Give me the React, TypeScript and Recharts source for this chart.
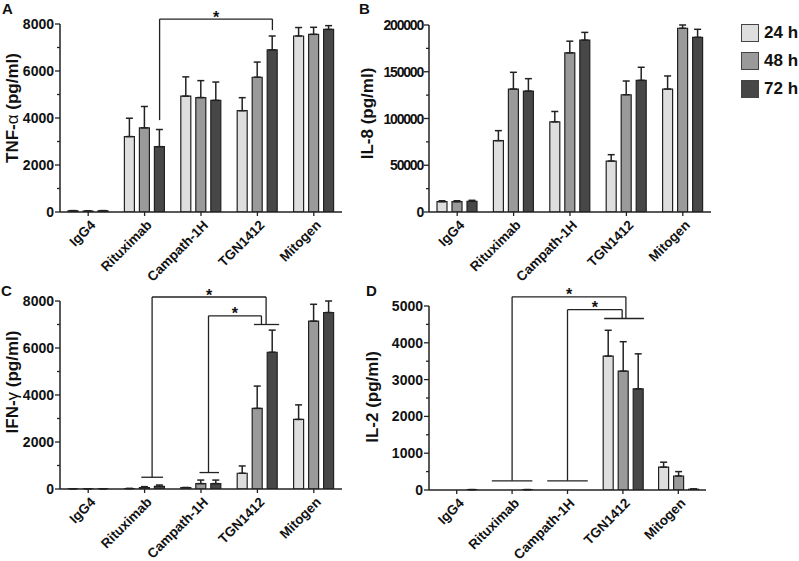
import { BarChart, Bar, XAxis, YAxis, ErrorBar, ReferenceLine, ReferenceDot, Legend } from 'recharts'

const CATEGORIES = ['IgG4', 'Rituximab', 'Campath-1H', 'TGN1412', 'Mitogen']

const SERIES = [
  { key: 'h24', name: '24 h', fill: '#dedede' },
  { key: 'h48', name: '48 h', fill: '#9a9a9a' },
  { key: 'h72', name: '72 h', fill: '#474747' },
]

// values per category: [24 h, 48 h, 72 h]
const TNF_MEAN = [[50, 40, 50], [3210, 3580, 2780], [4930, 4870, 4750], [4310, 5735, 6900], [7490, 7560, 7770]]
const TNF_SD = [[10, 10, 10], [780, 910, 730], [820, 720, 780], [555, 645, 590], [360, 300, 160]]
const TNF_TICKS = [0, 1000, 2000, 3000, 4000, 5000, 6000, 7000, 8000]

const IL8_MEAN = [[11000, 11000, 11500], [76300, 131500, 129300], [96400, 170200, 183800], [54500, 125400, 140800], [131500, 196500, 186800]]
const IL8_SD = [[1000, 1000, 1000], [10700, 17900, 13300], [11100, 12500, 8300], [6800, 14700, 14000], [14000, 3500, 8600]]
const IL8_TICKS = [0, 25000, 50000, 75000, 100000, 125000, 150000, 175000, 200000]

const IFN_MEAN = [[8, 8, 8], [20, 60, 110], [60, 230, 230], [670, 3430, 5820], [2960, 7140, 7510]]
const IFN_SD = [[0, 0, 0], [0, 40, 60], [0, 150, 150], [310, 950, 940], [620, 720, 490]]
const IFN_TICKS = [0, 1000, 2000, 3000, 4000, 5000, 6000, 7000, 8000]

const IL2_MEAN = [[0, 0, 10], [0, 0, 10], [0, 0, 0], [3640, 3230, 2750], [620, 380, 20]]
const IL2_SD = [[0, 0, 0], [0, 0, 0], [0, 0, 0], [700, 800, 950], [135, 120, 10]]
const IL2_TICKS = [0, 500, 1000, 1500, 2000, 2500, 3000, 3500, 4000, 4500, 5000]

// significance brackets: [category, bar offset from group centre, value]
const TNF_LINKS = [{ from: [1, 1, 3910], to: [3, 1, 7740], top: 8210 }]
const IFN_LINKS = [
  { from: [1, 0.5, 500], to: [3, 0.58, 7000], top: 8170 },
  { from: [2, 0.5, 700], to: [3, 0.27, 7000], top: 7370 },
]
const IL2_LINKS = [
  { from: [1, 0, 250], to: [3, 0.2, 4660], top: 5250 },
  { from: [2, 0, 250], to: [3, -0.05, 4660], top: 4900 },
]
// horizontal caps: [category, from offset, to offset, value]
const IFN_CAPS = [[1, -0.22, 1.23, 500], [2, -0.1, 1.2, 700], [3, -0.22, 1.45, 7000]]
const IL2_CAPS = [[1, -1.35, 1.35, 250], [2, -1.35, 1.35, 250], [3, -1.25, 1.4, 4660]]

const INK = '#222'
const FONT = '"Liberation Sans", Arial, sans-serif'
const BAR_SIZE = 10
const BAR_GAP = 5

function buildRows(mean: number[][], sd: number[][]) {
  return CATEGORIES.map((name, i) => ({
    name,
    pos: i + 0.5,
    h24: mean[i][0],
    h48: mean[i][1],
    h72: mean[i][2],
    h24_sd: [0, sd[i][0]],
    h48_sd: [0, sd[i][1]],
    h72_sd: [0, sd[i][2]],
  }))
}

function YTick(props: any) {
  const { x, y, payload, major, spacing } = props
  const isMajor = payload.value % major === 0
  return (
    <g>
      <line x1={x} x2={x - (isMajor ? 5 : 3)} y1={y} y2={y} stroke={INK} strokeWidth={1.3} />
      {isMajor && (
        <text x={x - 6} y={y} dy="0.36em" textAnchor="end" fontFamily={FONT} fontWeight={700}
          fontSize={14} letterSpacing={spacing} fill="#111">
          {payload.value}
        </text>
      )}
    </g>
  )
}

function XTick(props: any) {
  const { x, y, payload } = props
  const tx = x + 8
  const ty = y + 14
  return (
    <g>
      <line x1={x} x2={x} y1={y} y2={y + 4} stroke={INK} strokeWidth={1.3} />
      <text x={tx} y={ty} transform={`rotate(-45 ${tx} ${ty})`} textAnchor="end" fontFamily={FONT}
        fontWeight={700} fontSize={13.5} fill="#111">
        {payload.value}
      </text>
    </g>
  )
}

function YTitle(props: any) {
  const { viewBox, head, greek, tail, dx, dy } = props
  const cx = viewBox.x + dx
  const cy = viewBox.y + viewBox.height / 2 + dy
  return (
    <text x={cx} y={cy} transform={`rotate(-90 ${cx} ${cy})`} textAnchor="middle" dominantBaseline="central"
      fontFamily={FONT} fontWeight={700} fontSize={17} fill="#111">
      {head}
      {greek && <tspan fontWeight={400}>{greek}</tspan>}
      {tail}
    </text>
  )
}

function LegendBox({ payload }: any) {
  return (
    <div style={{ fontFamily: FONT }}>
      {(payload || []).map((p: any) => (
        <div key={p.value} style={{ display: 'flex', alignItems: 'center', height: 18, marginBottom: 10 }}>
          <div style={{ width: 16, height: 16, background: p.color, border: '1.5px solid #444', marginRight: 5 }} />
          <span style={{ fontSize: 17, fontWeight: 700, color: '#111' }}>{p.value}</span>
        </div>
      ))}
    </div>
  )
}

function Panel(props: any) {
  const { left, top, width, height, margin, yWidth, xHeight, mean, sd, ticks, major, spacing, title,
    links = [], caps = [], legend = false } = props
  const rows = buildRows(mean, sd)
  const plotW = width - margin.left - margin.right - yWidth
  const step = (BAR_SIZE + BAR_GAP) / (plotW / CATEGORIES.length)
  const px = (c: number, s: number) => c + 0.5 + s * step

  const segments: any[] = []
  const stars: any[] = []
  links.forEach((l: any) => {
    const x1 = px(l.from[0], l.from[1])
    const x2 = px(l.to[0], l.to[1])
    segments.push([{ x: x1, y: l.from[2] }, { x: x1, y: l.top }])
    segments.push([{ x: x1, y: l.top }, { x: x2, y: l.top }])
    segments.push([{ x: x2, y: l.top }, { x: x2, y: l.to[2] }])
    stars.push({ x: (x1 + x2) / 2, y: l.top })
  })
  caps.forEach((c: number[]) => {
    segments.push([{ x: px(c[0], c[1]), y: c[3] }, { x: px(c[0], c[2]), y: c[3] }])
  })

  return (
    <div style={{ position: 'absolute', left, top }}>
      <BarChart width={width} height={height} data={rows} margin={margin} barSize={BAR_SIZE} barGap={BAR_GAP}>
        <XAxis dataKey="name" interval={0} height={xHeight} axisLine={{ stroke: INK, strokeWidth: 1.5 }}
          tickLine={false} tickSize={0} tickMargin={0} tick={(p: any) => <XTick {...p} />} />
        <XAxis xAxisId="n" dataKey="pos" type="number" domain={[0, CATEGORIES.length]} allowDataOverflow hide />
        <YAxis width={yWidth} domain={[0, ticks[ticks.length - 1]]} ticks={ticks} interval={0} allowDataOverflow
          axisLine={{ stroke: INK, strokeWidth: 1.5 }} tickLine={false} tickSize={0} tickMargin={0}
          tick={(p: any) => <YTick {...p} major={major} spacing={spacing} />}
          label={{ content: (p: any) => <YTitle viewBox={p.viewBox} {...title} /> }} />
        {SERIES.map((s) => (
          <Bar key={s.key} dataKey={s.key} name={s.name} fill={s.fill} stroke={INK} strokeWidth={1.2}
            isAnimationActive={false}>
            <ErrorBar dataKey={`${s.key}_sd`} width={3.5} stroke={INK} strokeWidth={1.5} direction="y" />
          </Bar>
        ))}
        {segments.map((seg, i) => (
          <ReferenceLine key={`s${i}`} xAxisId="n" segment={seg} stroke={INK} strokeWidth={1.3} ifOverflow="visible" />
        ))}
        {stars.map((st, i) => (
          <ReferenceDot key={`d${i}`} xAxisId="n" x={st.x} y={st.y} r={0} stroke="none" fill="none"
            ifOverflow="visible"
            label={{ value: '*', position: 'top', offset: -3.5, fontSize: 16, fontWeight: 700, fill: '#111', fontFamily: FONT }} />
        ))}
        {legend && (
          <Legend layout="vertical" align="center" verticalAlign="middle"
            wrapperStyle={{ left: 411, top: 24, width: 70, height: 90 }}
            content={(p: any) => <LegendBox payload={p.payload} />} />
        )}
      </BarChart>
    </div>
  )
}

const letterStyle = (left: number, top: number) => ({
  position: 'absolute' as const, left, top, fontFamily: FONT, fontWeight: 700, fontSize: 15, lineHeight: 1, color: '#111',
})

export default function App() {
  return (
    <div style={{ position: 'absolute', left: 0, top: 0, width: 799, height: 561, background: '#fff', overflow: 'hidden' }}>
      <Panel left={0} top={0} width={350} height={290} margin={{ top: 24, right: 8, bottom: 8, left: 0 }}
        yWidth={60} xHeight={70} mean={TNF_MEAN} sd={TNF_SD} ticks={TNF_TICKS} major={2000} spacing={0}
        title={{ head: 'TNF-', greek: 'α', tail: ' (pg/ml)', dx: 12, dy: -10 }} links={TNF_LINKS} />
      <Panel left={330} top={0} width={469} height={290} margin={{ top: 25, right: 88, bottom: 8, left: 0 }}
        yWidth={99} xHeight={70} mean={IL8_MEAN} sd={IL8_SD} ticks={IL8_TICKS} major={50000} spacing={-1.2}
        title={{ head: 'IL-8 (pg/ml)', dx: 37, dy: -5 }} legend />
      <Panel left={0} top={280} width={350} height={281} margin={{ top: 21, right: 8, bottom: 8, left: 0 }}
        yWidth={60} xHeight={64} mean={IFN_MEAN} sd={IFN_SD} ticks={IFN_TICKS} major={2000} spacing={0}
        title={{ head: 'IFN-', greek: 'γ', tail: ' (pg/ml)', dx: 12, dy: -13 }} links={IFN_LINKS} caps={IFN_CAPS} />
      <Panel left={330} top={280} width={469} height={281} margin={{ top: 26, right: 93, bottom: 8, left: 0 }}
        yWidth={99} xHeight={63} mean={IL2_MEAN} sd={IL2_SD} ticks={IL2_TICKS} major={1000} spacing={0}
        title={{ head: 'IL-2 (pg/ml)', dx: 42, dy: -1 }} links={IL2_LINKS} caps={IL2_CAPS} />
      <div style={letterStyle(2, 1)}>A</div>
      <div style={letterStyle(359, 1)}>B</div>
      <div style={letterStyle(1, 283)}>C</div>
      <div style={letterStyle(366, 283)}>D</div>
    </div>
  )
}
